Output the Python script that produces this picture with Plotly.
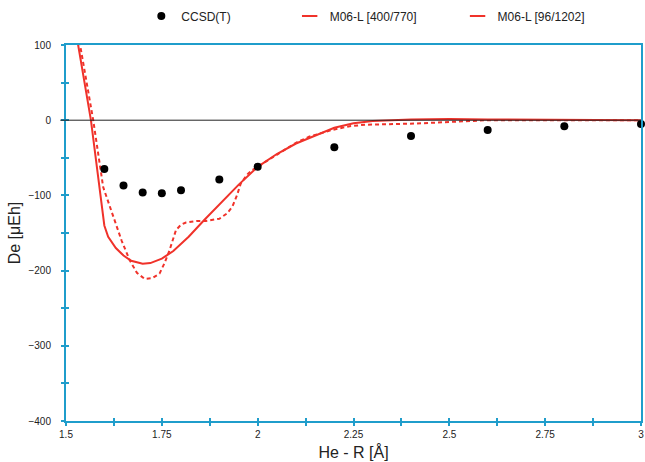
import plotly.graph_objects as go

# CCSD(T) reference points
ccsd_x = [1.6, 1.65, 1.7, 1.75, 1.8, 1.9, 2.0, 2.2, 2.4, 2.6, 2.8, 3.0]
ccsd_y = [-65, -87, -96, -97, -93, -79, -62, -36, -21, -13, -8, -5]

# M06-L [400/770] (solid)
m1_x = [1.53, 1.565, 1.6, 1.61, 1.63, 1.65, 1.67, 1.7, 1.72, 1.75, 1.78, 1.82, 1.86,
        1.9, 1.95, 2.0, 2.05, 2.1, 2.15, 2.2, 2.25, 2.3, 2.4, 2.5, 2.6, 2.8, 3.0]
m1_y = [105, 0, -140, -155, -170, -180, -187, -191, -190, -184, -174, -155, -133,
        -112, -86, -62, -45, -31, -20, -10, -4, -1, 1, 1.5, 1, 0.5, 0]

# M06-L [96/1202] (dashed)
m2_x = [1.535, 1.571, 1.597, 1.623, 1.645, 1.666, 1.685, 1.705, 1.725, 1.744, 1.757,
        1.77, 1.787, 1.8, 1.813, 1.84, 1.865, 1.9, 1.92, 1.934, 1.946, 1.956, 1.975,
        1.987, 2.047, 2.1, 2.134, 2.194, 2.24, 2.28, 2.41, 2.54, 2.6, 3.0]
m2_y = [105, 0, -89, -129, -160, -186, -203, -211, -210, -204, -190,
        -173, -146, -139, -136, -134, -134, -131, -124, -115, -100, -84, -71,
        -66, -47, -30, -22, -13, -8, -6, -4.5, -1, 0, 0]

x_range = [1.5, 3.0]
y_range = [-400, 100]
x_ticks = [1.5, 1.75, 2.0, 2.25, 2.5, 2.75, 3.0]
x_labels = ["1.5", "1.75", "2", "2.25", "2.5", "2.75", "3"]
y_ticks = [-400, -300, -200, -100, 0, 100]

RED = "#f0322a"
BLUE = "#1f9dcb"
FONT = "Liberation Sans, Arial, sans-serif"

fig = go.Figure()
fig.add_trace(go.Scatter(x=m2_x, y=m2_y, mode="lines", name="M06-L [96/1202]",
                         line=dict(color=RED, width=2, dash="4px,3px"), showlegend=False))
fig.add_trace(go.Scatter(x=m1_x, y=m1_y, mode="lines", name="M06-L [400/770]",
                         line=dict(color=RED, width=2), showlegend=False))
fig.add_trace(go.Scatter(x=ccsd_x, y=ccsd_y, mode="markers", name="CCSD(T)",
                         marker=dict(color="black", size=8), cliponaxis=False,
                         showlegend=False))

# legend entries
fig.add_trace(go.Scatter(x=[None], y=[None], mode="markers", name="CCSD(T)",
                         marker=dict(color="black", size=8), legend="legend"))
fig.add_trace(go.Scatter(x=[None], y=[None], mode="markers", name="M06-L [400/770]",
                         marker=dict(symbol="line-ew-open", color=RED, size=11,
                                     line=dict(color=RED, width=2)), legend="legend2"))
fig.add_trace(go.Scatter(x=[None], y=[None], mode="markers", name="M06-L [96/1202]",
                         marker=dict(symbol="line-ew-open", color=RED, size=11,
                                     line=dict(color=RED, width=2)), legend="legend3"))

# helper axes for inside ticks (cross-style ticks)
fig.add_trace(go.Scatter(x=[None], y=[None], xaxis="x2", yaxis="y2", showlegend=False))

fig.add_shape(type="line", xref="paper", yref="y", x0=-0.01, x1=1, y0=0, y1=0,
              line=dict(color="#222222", width=1), layer="above")

leg = dict(orientation="h", yanchor="middle", y=1.077, xanchor="left",
           font=dict(family=FONT, size=12, color="#222"), bgcolor="rgba(0,0,0,0)",
           itemwidth=30)

fig.update_layout(
    width=645, height=462,
    margin=dict(l=66, r=2, t=45, b=41),
    paper_bgcolor="white", plot_bgcolor="white",
    font=dict(family=FONT, color="#222"),
    legend=dict(leg, x=0.131),
    legend2=dict(leg, x=0.389),
    legend3=dict(leg, x=0.681),
    xaxis=dict(range=x_range, tickvals=x_ticks, ticktext=x_labels,
               showgrid=False, zeroline=False, showline=True, linecolor=BLUE,
               linewidth=2, mirror=True, ticks="outside", ticklen=3, tickcolor=BLUE,
               tickwidth=1.5, minor=dict(dtick=0.125, ticks="outside", ticklen=3,
                                         tickcolor=BLUE, tickwidth=1.5),
               tickfont=dict(size=10, color="#222"),
               title=dict(text="He - R [Å]", font=dict(size=16, color="#222"), standoff=8)),
    yaxis=dict(range=y_range, tickvals=y_ticks, showgrid=False, zeroline=False,
               showline=True, linecolor=BLUE, linewidth=2, mirror=True,
               ticks="outside", ticklen=3, tickcolor=BLUE, tickwidth=1.5,
               minor=dict(dtick=50, ticks="outside", ticklen=3, tickcolor=BLUE,
                          tickwidth=1.5),
               tickfont=dict(size=10, color="#222"), ticklabelstandoff=8,
               title=dict(text="De [μEh]", font=dict(size=16, color="#222"), standoff=4)),
    xaxis2=dict(overlaying="x", range=x_range, dtick=0.125, tick0=1.5,
                showticklabels=False, showgrid=False, zeroline=False, showline=False,
                ticks="inside", ticklen=3, tickcolor=BLUE, tickwidth=1.5, side="bottom",
                anchor="y2"),
    yaxis2=dict(overlaying="y", range=y_range, dtick=50, tick0=0,
                showticklabels=False, showgrid=False, zeroline=False, showline=False,
                ticks="inside", ticklen=3, tickcolor=BLUE, tickwidth=1.5, side="left",
                anchor="x2"),
)

fig.write_html("out.html")
